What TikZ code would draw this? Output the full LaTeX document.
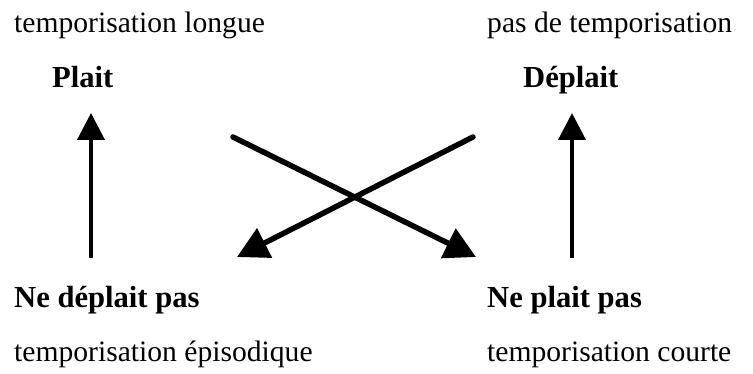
\documentclass[tikz,border=0pt]{standalone}
\usepackage{fontspec}
\setmainfont{Liberation Serif}
\usetikzlibrary{arrows.meta}
\begin{document}
\begin{tikzpicture}[x=1pt,y=-1pt,
  lbl/.style={anchor=base west,inner sep=0pt,font=\fontsize{29.6}{35}\selectfont},
  blbl/.style={anchor=base west,inner sep=0pt,font=\fontsize{30.6}{36}\selectfont\bfseries},
  uparr/.style={line width=4pt,-{Triangle[length=27pt,width=27pt]}},
  crossarr/.style={line width=5.5pt,line cap=round,-{Triangle[length=31pt,width=32pt]}}]
\useasboundingbox[fill=white] (0,0) rectangle (753,374);
\node[lbl] (tl) at (14,33) {temporisation longue};
\node[lbl] (tr) at (487,33) {pas de temporisation};
\node[blbl] (plait) at (52,88) {Plait};
\node[blbl] (deplait) at (523,88) {Déplait};
\node[blbl] (nedeplait) at (14,308) {Ne déplait pas};
\node[blbl] (neplait) at (487,308) {Ne plait pas};
\node[lbl] (bl) at (14,362) {temporisation épisodique};
\node[lbl] (br) at (487,362) {temporisation courte};
\coordinate (lbot) at (91,258);
\coordinate (ltop) at (91,113);
\coordinate (rbot) at (572,258);
\coordinate (rtop) at (572,113);
\coordinate (aStart) at (233,137);
\coordinate (aEnd) at (476,257);
\coordinate (bStart) at (473,137);
\coordinate (bEnd) at (237,257);
\draw[uparr] (lbot) -- (ltop);
\draw[uparr] (rbot) -- (rtop);
\draw[crossarr] (aStart) -- (aEnd);
\draw[crossarr] (bStart) -- (bEnd);
\end{tikzpicture}
\end{document}
